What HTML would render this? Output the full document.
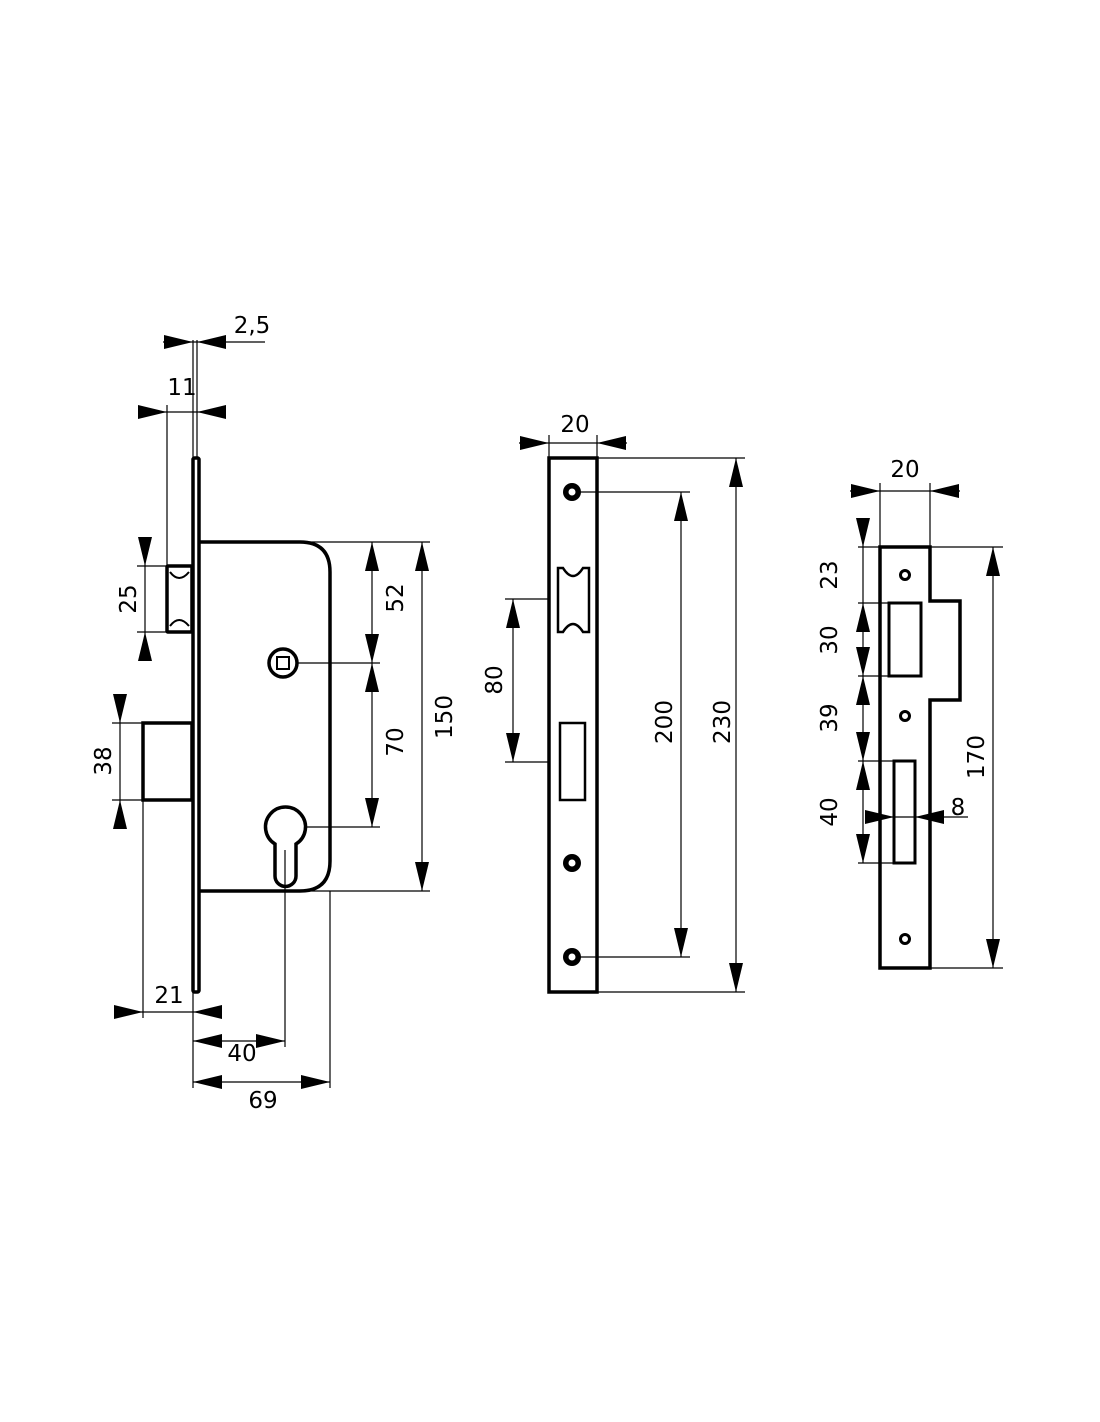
<!DOCTYPE html>
<html><head><meta charset="utf-8"><style>html,body{margin:0;padding:0;background:#fff}svg{display:block}text{font-family:"DejaVu Sans","Liberation Sans",sans-serif;font-size:23px;fill:#000}</style></head><body>
<svg width="1100" height="1422" viewBox="0 0 1100 1422" xmlns="http://www.w3.org/2000/svg">
<defs><polygon id="a" points="0,0 -29,-7 -29,7" fill="#000"/></defs>
<g stroke="#000" fill="none">
<g stroke-width="3.5">
<rect x="193" y="458" width="6" height="534" rx="1.5"/>
<path d="M200 542 H300 Q330 542 330 572 V861 Q330 891 300 891 H200"/>
<rect x="167" y="566" width="25" height="66" rx="1"/>
<rect x="143" y="723" width="49" height="77"/>
<circle cx="283" cy="663" r="14"/>
<rect x="277" y="657" width="12" height="12" stroke-width="2"/>
<path d="M275 844 A20 20 0 1 1 296 844 V876 A10.5 10.5 0 0 1 275 876 Z"/>
</g>
<g stroke-width="2">
<path d="M170 572 Q179 584 189 572 M170 626 Q179 614 189 626"/>
</g>
<g stroke-width="1.2">
<line x1="193" y1="340" x2="193" y2="458"/><line x1="197" y1="340" x2="197" y2="458"/>
<line x1="163" y1="342" x2="265" y2="342"/>
<line x1="138" y1="412" x2="224" y2="412"/>
<line x1="167" y1="405" x2="167" y2="566"/>
<line x1="137" y1="566" x2="167" y2="566"/><line x1="137" y1="632" x2="167" y2="632"/>
<line x1="145" y1="538" x2="145" y2="660"/>
<line x1="112" y1="723" x2="143" y2="723"/><line x1="112" y1="800" x2="143" y2="800"/>
<line x1="120" y1="695" x2="120" y2="828"/>
<line x1="300" y1="542" x2="430" y2="542"/>
<line x1="297" y1="663" x2="380" y2="663"/>
<line x1="306" y1="827" x2="380" y2="827"/>
<line x1="300" y1="891" x2="430" y2="891"/>
<line x1="372" y1="542" x2="372" y2="827"/>
<line x1="422" y1="542" x2="422" y2="891"/>
<line x1="143" y1="800" x2="143" y2="1018"/>
<line x1="115" y1="1012" x2="222" y2="1012"/>
<line x1="193" y1="992" x2="193" y2="1088"/>
<line x1="285" y1="850" x2="285" y2="1047"/>
<line x1="193" y1="1041" x2="285" y2="1041"/>
<line x1="330" y1="891" x2="330" y2="1088"/>
<line x1="193" y1="1082" x2="330" y2="1082"/>
</g>
<g stroke-width="3.5">
<rect x="549" y="458" width="48" height="534"/>
<path d="M558 568 H563 Q573 584 583 568 H589 V632 H583 Q573 616 563 632 H558 Z" stroke-width="2.5"/>
<rect x="560" y="723" width="25" height="77" stroke-width="2.5"/>
</g>
<g stroke-width="1.2">
<line x1="549" y1="435" x2="549" y2="458"/><line x1="597" y1="435" x2="597" y2="458"/>
<line x1="519" y1="443" x2="627" y2="443"/>
<line x1="505" y1="599" x2="549" y2="599"/><line x1="505" y1="762" x2="549" y2="762"/>
<line x1="513" y1="599" x2="513" y2="762"/>
<line x1="580" y1="492" x2="690" y2="492"/><line x1="580" y1="957" x2="690" y2="957"/>
<line x1="681" y1="492" x2="681" y2="957"/>
<line x1="597" y1="458" x2="745" y2="458"/><line x1="597" y1="992" x2="745" y2="992"/>
<line x1="736" y1="458" x2="736" y2="992"/>
</g>
<g stroke-width="3.5">
<path d="M880 547 H930 V601 H960 V700 H930 V968 H880 Z"/>
<rect x="889" y="603" width="32" height="73" stroke-width="3"/>
<rect x="894" y="761" width="21" height="102" stroke-width="3"/>
</g>
<g stroke-width="1.2">
<line x1="880" y1="483" x2="880" y2="547"/><line x1="930" y1="483" x2="930" y2="547"/>
<line x1="850" y1="491" x2="960" y2="491"/>
<line x1="858" y1="547" x2="1003" y2="547"/><line x1="930" y1="968" x2="1003" y2="968"/>
<line x1="858" y1="603" x2="889" y2="603"/><line x1="858" y1="676" x2="889" y2="676"/>
<line x1="858" y1="761" x2="894" y2="761"/><line x1="858" y1="863" x2="894" y2="863"/>
<line x1="863" y1="519" x2="863" y2="863"/>
<line x1="870" y1="817" x2="968" y2="817"/>
<line x1="993" y1="547" x2="993" y2="968"/>
</g>
</g>
<g fill="#000">
<circle cx="572" cy="492" r="9"/><circle cx="572" cy="863" r="9"/><circle cx="572" cy="957" r="9"/>
</g>
<g fill="#fff"><circle cx="572" cy="492" r="3.5"/><circle cx="572" cy="863" r="3.5"/><circle cx="572" cy="957" r="3.5"/></g>
<g fill="none" stroke="#000" stroke-width="3"><circle cx="905" cy="575" r="4.5"/><circle cx="905" cy="716" r="4.5"/><circle cx="905" cy="939" r="4.5"/></g>
<use href="#a" transform="translate(193,342)"/><use href="#a" transform="translate(197,342) rotate(180)"/>
<use href="#a" transform="translate(167,412)"/><use href="#a" transform="translate(197,412) rotate(180)"/>
<use href="#a" transform="translate(145,566) rotate(90)"/><use href="#a" transform="translate(145,632) rotate(-90)"/>
<use href="#a" transform="translate(120,723) rotate(90)"/><use href="#a" transform="translate(120,800) rotate(-90)"/>
<use href="#a" transform="translate(372,542) rotate(-90)"/><use href="#a" transform="translate(372,663) rotate(90)"/>
<use href="#a" transform="translate(372,663) rotate(-90)"/><use href="#a" transform="translate(372,827) rotate(90)"/>
<use href="#a" transform="translate(422,542) rotate(-90)"/><use href="#a" transform="translate(422,891) rotate(90)"/>
<use href="#a" transform="translate(143,1012)"/><use href="#a" transform="translate(193,1012) rotate(180)"/>
<use href="#a" transform="translate(193,1041) rotate(180)"/><use href="#a" transform="translate(285,1041)"/>
<use href="#a" transform="translate(193,1082) rotate(180)"/><use href="#a" transform="translate(330,1082)"/>
<use href="#a" transform="translate(549,443)"/><use href="#a" transform="translate(597,443) rotate(180)"/>
<use href="#a" transform="translate(513,599) rotate(-90)"/><use href="#a" transform="translate(513,762) rotate(90)"/>
<use href="#a" transform="translate(681,492) rotate(-90)"/><use href="#a" transform="translate(681,957) rotate(90)"/>
<use href="#a" transform="translate(736,458) rotate(-90)"/><use href="#a" transform="translate(736,992) rotate(90)"/>
<use href="#a" transform="translate(880,491)"/><use href="#a" transform="translate(930,491) rotate(180)"/>
<use href="#a" transform="translate(863,547) rotate(90)"/>
<use href="#a" transform="translate(863,603) rotate(-90)"/><use href="#a" transform="translate(863,676) rotate(90)"/>
<use href="#a" transform="translate(863,676) rotate(-90)"/><use href="#a" transform="translate(863,761) rotate(90)"/>
<use href="#a" transform="translate(863,761) rotate(-90)"/><use href="#a" transform="translate(863,863) rotate(90)"/>
<use href="#a" transform="translate(894,817)"/><use href="#a" transform="translate(915,817) rotate(180)"/>
<use href="#a" transform="translate(993,547) rotate(-90)"/><use href="#a" transform="translate(993,968) rotate(90)"/>
<text x="252" y="333" text-anchor="middle">2,5</text>
<text x="182" y="395" text-anchor="middle">11</text>
<text transform="translate(136,599) rotate(-90)" text-anchor="middle">25</text>
<text transform="translate(111,761) rotate(-90)" text-anchor="middle">38</text>
<text transform="translate(403,598) rotate(-90)" text-anchor="middle">52</text>
<text transform="translate(403,742) rotate(-90)" text-anchor="middle">70</text>
<text transform="translate(452,717) rotate(-90)" text-anchor="middle">150</text>
<text x="169" y="1003" text-anchor="middle">21</text>
<text x="242" y="1061" text-anchor="middle">40</text>
<text x="263" y="1108" text-anchor="middle">69</text>
<text x="575" y="432" text-anchor="middle">20</text>
<text transform="translate(502,680) rotate(-90)" text-anchor="middle">80</text>
<text transform="translate(672,722) rotate(-90)" text-anchor="middle">200</text>
<text transform="translate(730,722) rotate(-90)" text-anchor="middle">230</text>
<text x="905" y="477" text-anchor="middle">20</text>
<text transform="translate(837,575) rotate(-90)" text-anchor="middle">23</text>
<text transform="translate(837,640) rotate(-90)" text-anchor="middle">30</text>
<text transform="translate(837,718) rotate(-90)" text-anchor="middle">39</text>
<text transform="translate(837,812) rotate(-90)" text-anchor="middle">40</text>
<text x="958" y="815" text-anchor="middle">8</text>
<text transform="translate(984,757) rotate(-90)" text-anchor="middle">170</text>
</svg>
</body></html>
